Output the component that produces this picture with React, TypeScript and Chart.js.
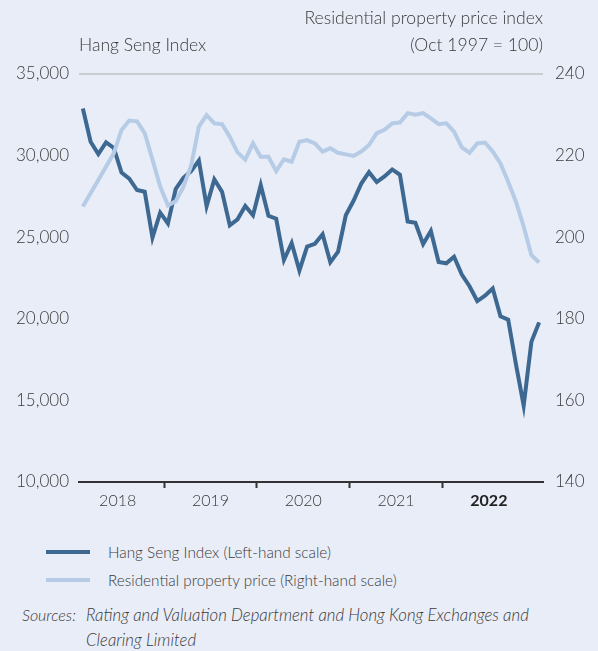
import React, { useEffect, useRef } from 'react';
import { Chart, registerables } from 'chart.js';

Chart.register(...registerables);

// ---- Data (monthly, Jan 2018 – Dec 2022) ----
const yearLabels = ['2018', '2019', '2020', '2021', '2022'];

const hangSeng = [
  32887, 30845, 30093, 30808, 30469, 28955, 28583, 27889, 27789, 24980, 26507, 25846,
  27942, 28633, 29051, 29699, 26901, 28543, 27778, 25725, 26092, 26907, 26346, 28190,
  26313, 26130, 23603, 24644, 22961, 24427, 24595, 25177, 23459, 24107, 26341, 27231,
  28284, 28980, 28378, 28725, 29152, 28828, 25961, 25879, 24576, 25377, 23475, 23398,
  23802, 22713, 21997, 21089, 21415, 21860, 20157, 19954, 17223, 14687, 18597, 19781,
];

const propertyPrice = [
  207.5, 210.8, 214.0, 217.3, 220.6, 226.3, 228.6, 228.4, 225.5, 219.0, 212.4, 207.8,
  208.8, 212.3, 217.5, 227.1, 229.9, 227.9, 227.7, 224.6, 220.8, 219.0, 223.0, 219.7,
  219.7, 216.2, 219.1, 218.5, 223.4, 223.8, 223.0, 221.0, 221.8, 220.7, 220.3, 219.9,
  221.0, 222.6, 225.5, 226.3, 227.9, 228.1, 230.4, 230.0, 230.4, 229.1, 227.7, 227.9,
  225.9, 222.0, 220.7, 223.0, 223.2, 221.0, 218.1, 213.6, 208.7, 202.6, 195.6, 193.8,
];

const leftTicks = [10000, 15000, 20000, 25000, 30000, 35000];
const rightTicks = [140, 160, 180, 200, 220, 240];
const yearLabelPos = [4.5, 16.5, 28.5, 40.5, 52.5];
const yearTickPos = [10.5, 22.5, 34.5, 46.5];

const BG = '#e9edf7';
const TEXT = '#3a3a3a';
const DARK = '#3d6891';
const LIGHT = '#b6cce6';
const FONT = 'Lato, "Open Sans", sans-serif';

const CANVAS_W = 598;
const CANVAS_H = 530;

export default function App() {
  const canvasRef = useRef<HTMLCanvasElement | null>(null);

  useEffect(() => {
    document.body.style.margin = '0';
    document.body.style.background = BG;
    const canvas = canvasRef.current;
    if (!canvas) return;

    const chart = new Chart(canvas, {
      type: 'line',
      data: {
        datasets: [
          {
            label: 'Residential property price (Right-hand scale)',
            data: propertyPrice.map((v, i) => ({ x: i, y: v })),
            yAxisID: 'yR',
            borderColor: LIGHT,
            borderWidth: 4,
            pointRadius: 0,
            tension: 0,
          },
          {
            label: 'Hang Seng Index (Left-hand scale)',
            data: hangSeng.map((v, i) => ({ x: i, y: v })),
            yAxisID: 'yL',
            borderColor: DARK,
            borderWidth: 4,
            pointRadius: 0,
            tension: 0,
          },
        ],
      },
      options: {
        animation: false,
        responsive: false,
        maintainAspectRatio: false,
        layout: { padding: { top: 74, left: 0, right: 0, bottom: 0 } },
        plugins: { legend: { display: false }, tooltip: { enabled: false } },
        scales: {
          x: {
            type: 'linear',
            min: -0.5,
            max: 59.5,
            afterBuildTicks: (s: any) => {
              s.ticks = [...yearLabelPos, ...yearTickPos]
                .sort((a, b) => a - b)
                .map((v) => ({ value: v }));
            },
            afterFit: (s: any) => {
              s.height = CANVAS_H - 482;
            },
            ticks: {
              autoSkip: false,
              maxRotation: 0,
              padding: 3,
              color: ({ tick }: any) => (tick && tick.value === 52.5 ? '#222' : TEXT),
              font: ({ tick }: any) =>
                tick && tick.value === 52.5
                  ? { family: FONT, size: 16, weight: 'bold' }
                  : { family: FONT, size: 16, weight: 300 },
              callback: (v: any) => {
                const idx = yearLabelPos.indexOf(Number(v));
                return idx >= 0 ? yearLabels[idx] : '';
              },
            },
            grid: {
              drawOnChartArea: false,
              tickLength: 6,
              tickWidth: 2,
              color: ({ tick }: any) =>
                tick && yearTickPos.includes(tick.value) ? '#333' : 'rgba(0,0,0,0)',
            },
            border: { color: '#333', width: 2 },
          },
          yL: {
            position: 'left',
            min: 10000,
            max: 35000,
            afterBuildTicks: (s: any) => {
              s.ticks = leftTicks.map((v) => ({ value: v }));
            },
            afterFit: (s: any) => {
              s.width = 79;
            },
            ticks: {
              padding: 10,
              color: TEXT,
              font: { family: FONT, size: 17, weight: 300 },
              callback: (v: any) => Number(v).toLocaleString('en-US'),
            },
            grid: {
              drawTicks: false,
              lineWidth: 2,
              color: ({ tick }: any) =>
                tick && tick.value === 35000 ? '#cbccd2' : 'rgba(0,0,0,0)',
            },
            border: { display: false },
          },
          yR: {
            position: 'right',
            min: 140,
            max: 240,
            afterBuildTicks: (s: any) => {
              s.ticks = rightTicks.map((v) => ({ value: v }));
            },
            afterFit: (s: any) => {
              s.width = CANVAS_W - 543;
            },
            ticks: {
              padding: 12,
              color: TEXT,
              font: { family: FONT, size: 17, weight: 300 },
            },
            grid: { display: false, drawTicks: false },
            border: { display: false },
          },
        },
      },
    } as any);

    return () => chart.destroy();
  }, []);

  const txt: React.CSSProperties = {
    position: 'absolute',
    fontFamily: FONT,
    fontWeight: 300,
    color: TEXT,
    whiteSpace: 'nowrap',
  };

  return (
    <div style={{ position: 'relative', width: 598, height: 651, background: BG, overflow: 'hidden' }}>
      <canvas
        ref={canvasRef}
        width={CANVAS_W}
        height={CANVAS_H}
        style={{ position: 'absolute', left: 0, top: 0, width: CANVAS_W, height: CANVAS_H }}
      />
      <div style={{ ...txt, right: 55, top: 8, fontSize: 17.6, lineHeight: '20px' }}>
        Residential property price index
      </div>
      <div style={{ ...txt, right: 55, top: 35, fontSize: 17.6, lineHeight: '20px' }}>
        (Oct 1997 = 100)
      </div>
      <div style={{ ...txt, left: 79, top: 35, fontSize: 17.5, lineHeight: '20px' }}>
        Hang Seng Index
      </div>

      <div style={{ position: 'absolute', left: 46, top: 550, width: 44, height: 4, background: DARK }} />
      <div style={{ ...txt, left: 108, top: 542, fontSize: 15.3, lineHeight: '20px' }}>
        Hang Seng Index (Left-hand scale)
      </div>
      <div style={{ position: 'absolute', left: 46, top: 578, width: 44, height: 4, background: LIGHT }} />
      <div style={{ ...txt, left: 108, top: 570, fontSize: 15.3, lineHeight: '20px' }}>
        Residential property price (Right-hand scale)
      </div>

      <div style={{ ...txt, left: 22, top: 605, fontSize: 16, lineHeight: '20px', fontStyle: 'italic' }}>
        Sources:
      </div>
      <div style={{ ...txt, left: 86, top: 605, fontSize: 16.8, lineHeight: '20px', fontStyle: 'italic' }}>
        Rating and Valuation Department and Hong Kong Exchanges and
      </div>
      <div style={{ ...txt, left: 86, top: 630, fontSize: 16.8, lineHeight: '20px', fontStyle: 'italic' }}>
        Clearing Limited
      </div>
    </div>
  );
}
